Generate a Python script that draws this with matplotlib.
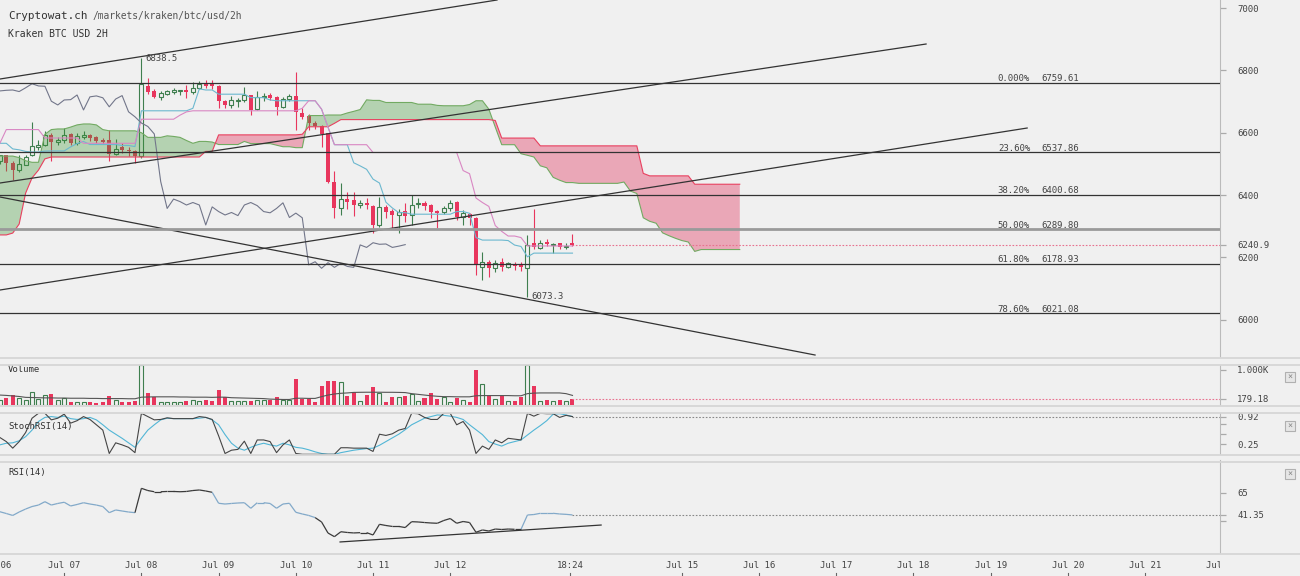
import numpy as np
import matplotlib
matplotlib.use("Agg")
import matplotlib.pyplot as plt
from matplotlib.collections import LineCollection
from matplotlib.lines import Line2D
from matplotlib.patches import Rectangle

plt.rcParams["font.family"] = ["DejaVu Sans Mono"]

# -----------------------
# Data (Kraken BTC/USD, 2h candles from Jul 06 04:00)
# -----------------------
opens = [6509, 6528, 6502, 6480, 6497, 6528, 6555, 6561, 6593, 6570,
         6577, 6596, 6567, 6585, 6593, 6586, 6577, 6577, 6532, 6553,
         6546, 6540, 6526, 6751, 6734, 6714, 6725, 6731, 6735, 6738,
         6732, 6744, 6757, 6757, 6750, 6702, 6690, 6702, 6706, 6721,
         6675, 6713, 6720, 6715, 6683, 6708, 6719, 6663, 6653, 6631,
         6620, 6598, 6443, 6360, 6387, 6384, 6368, 6376, 6366, 6304,
         6362, 6349, 6336, 6349, 6336, 6370, 6376, 6368, 6350, 6347,
         6357, 6379, 6329, 6340, 6325, 6170, 6186, 6165, 6184, 6168,
         6177, 6174, 6165, 6246, 6230, 6250, 6240, 6245, 6232, 6245]
highs = [6530, 6530, 6510, 6528, 6530, 6635, 6577, 6605, 6600, 6585,
         6615, 6600, 6600, 6605, 6596, 6590, 6583, 6609, 6580, 6567,
         6555, 6545, 6838.5, 6775, 6741, 6733, 6737, 6743, 6738, 6753,
         6763, 6766, 6768, 6768, 6753, 6706, 6717, 6711, 6748, 6722,
         6734, 6727, 6727, 6718, 6713, 6724, 6796, 6680, 6660, 6638,
         6625, 6600, 6477, 6440, 6410, 6410, 6384, 6390, 6368, 6395,
         6368, 6355, 6355, 6375, 6400, 6389, 6382, 6370, 6352, 6365,
         6384, 6381, 6352, 6343, 6330, 6218, 6190, 6193, 6197, 6184,
         6184, 6184, 6272, 6354, 6255, 6258, 6246, 6245, 6246, 6275]
lows = [6500, 6477, 6448, 6474, 6495, 6525, 6545, 6558, 6509, 6560,
        6566, 6560, 6562, 6580, 6573, 6567, 6564, 6509, 6528, 6535,
        6525, 6502, 6518, 6724, 6710, 6706, 6722, 6724, 6722, 6710,
        6725, 6740, 6744, 6740, 6679, 6679, 6680, 6683, 6697, 6657,
        6672, 6702, 6705, 6657, 6679, 6702, 6609, 6643, 6609, 6612,
        6555, 6440, 6327, 6336, 6355, 6333, 6360, 6355, 6277, 6298,
        6327, 6293, 6277, 6314, 6304, 6357, 6352, 6327, 6294, 6340,
        6349, 6320, 6304, 6304, 6143, 6127, 6138, 6154, 6157, 6165,
        6160, 6157, 6073.3, 6228, 6227, 6236, 6215, 6228, 6226, 6238]
closes = [6528, 6502, 6480, 6500, 6522, 6557, 6562, 6593, 6570, 6577,
          6593, 6567, 6590, 6593, 6583, 6573, 6570, 6532, 6548, 6545,
          6540, 6526, 6755, 6732, 6716, 6727, 6734, 6736, 6737, 6732,
          6744, 6757, 6750, 6749, 6701, 6689, 6705, 6706, 6721, 6673,
          6715, 6718, 6712, 6683, 6708, 6719, 6667, 6651, 6631, 6620,
          6596, 6443, 6357, 6387, 6379, 6368, 6376, 6368, 6304, 6362,
          6347, 6336, 6344, 6334, 6368, 6376, 6366, 6347, 6343, 6357,
          6375, 6328, 6342, 6327, 6176, 6186, 6165, 6183, 6168, 6181,
          6171, 6168, 6240, 6232, 6247, 6242, 6243, 6232, 6236, 6240.9]
volume = [150, 215, 290, 215, 150, 368, 170, 290, 320, 150,
          215, 85, 105, 105, 105, 75, 105, 263, 150, 105,
          85, 130, 1140, 340, 225, 105, 105, 85, 85, 130,
          150, 130, 150, 130, 433, 225, 130, 113, 130, 130,
          150, 150, 150, 225, 150, 150, 745, 170, 170, 85,
          555, 697, 697, 650, 263, 368, 130, 290, 510, 360,
          105, 245, 245, 263, 320, 130, 200, 340, 180, 245,
          105, 215, 150, 85, 1000, 595, 275, 170, 275, 130,
          130, 225, 1140, 545, 130, 150, 130, 150, 130, 179.18]
volume_ma = [290, 280, 265, 250, 225, 220, 215, 210, 210, 205,
             205, 200, 200, 200, 195, 195, 190, 190, 190, 190,
             185, 185, 230, 235, 240, 240, 240, 240, 235, 235,
             230, 230, 230, 225, 230, 230, 215, 210, 205, 200,
             195, 190, 175, 170, 165, 165, 200, 200, 195, 195,
             245, 290, 320, 340, 350, 365, 368, 370, 370, 370,
             368, 368, 365, 360, 330, 310, 290, 270, 255, 245,
             245, 240, 240, 240, 270, 275, 275, 275, 275, 275,
             270, 270, 330, 345, 350, 350, 350, 350, 330, 280]

# Ichimoku lines
tenkan = [6566, 6566, 6548, 6545, 6540, 6538, 6538, 6541, 6541.5, 6541.5,
          6541.5, 6554.5, 6565, 6572, 6562, 6562, 6562, 6562, 6562, 6559,
          6559, 6555.5, 6670.25, 6670.25, 6670.25, 6670.25, 6670.25, 6670.25, 6670.25, 6670.25,
          6678.25, 6740.5, 6737, 6737, 6723.5, 6723.5, 6723.5, 6723.5, 6723.5, 6712.5,
          6712.5, 6712.5, 6705, 6702.5, 6702.5, 6702.5, 6702.5, 6702.5, 6702.5, 6702.5,
          6675.5, 6618, 6561.5, 6561.5, 6561.5, 6503.5, 6493.5, 6482.5, 6451, 6438.5,
          6377, 6358.5, 6343.5, 6343.5, 6338.5, 6338.5, 6338.5, 6338.5, 6338.5, 6338.5,
          6338.5, 6347, 6347, 6341.5, 6263.5, 6255.5, 6255.5, 6255.5, 6255.5, 6254,
          6239.5, 6235, 6201.65, 6213.65, 6213.65, 6213.65, 6213.65, 6213.65, 6213.65, 6213.65]
kijun = [6566, 6610, 6610, 6610, 6610, 6610, 6610, 6583, 6583, 6583,
         6583, 6583, 6583, 6566, 6566, 6566, 6566, 6566, 6566, 6566,
         6566, 6566, 6643.25, 6643.25, 6643.25, 6643.25, 6643.25, 6643.25, 6656.25, 6666.75,
         6670.25, 6670.25, 6670.25, 6670.25, 6670.25, 6670.25, 6670.25, 6670.25, 6670.25, 6670.25,
         6670.25, 6670.25, 6670.25, 6670.25, 6670.25, 6670.25, 6670.25, 6678.25, 6702.5, 6702.5,
         6675.5, 6618, 6561.5, 6561.5, 6561.5, 6561.5, 6561.5, 6561.5, 6536.5, 6536.5,
         6536.5, 6536.5, 6536.5, 6536.5, 6536.5, 6536.5, 6536.5, 6536.5, 6536.5, 6536.5,
         6536.5, 6536.5, 6478.5, 6468.5, 6390.5, 6376, 6363.5, 6302, 6283.5, 6268.5,
         6268.5, 6263.5, 6236.65, 6236.65, 6236.65, 6236.65, 6236.65, 6236.65, 6236.65, 6236.65]
senkou_a = [6525, 6525, 6525, 6520, 6510, 6505, 6505, 6595, 6610, 6612,
            6612, 6618, 6625, 6628, 6628, 6625, 6610, 6606, 6606, 6606,
            6606, 6606, 6600, 6585, 6585, 6585, 6590, 6588, 6585, 6575,
            6566, 6572, 6572, 6570, 6562, 6562, 6562, 6562, 6572, 6565,
            6565, 6565, 6565, 6560, 6555, 6555, 6552, 6552, 6655, 6655,
            6655, 6656.75, 6656.75, 6656.75, 6663.25, 6668.5, 6674.25, 6705.4, 6703.6, 6703.6,
            6696.9, 6696.9, 6696.9, 6696.9, 6696.9, 6691.4, 6691.4, 6691.4, 6687.6, 6686.4,
            6686.4, 6686.4, 6686.4, 6690.4, 6702.5, 6702.5, 6675.5, 6618, 6561.5, 6561.5,
            6561.5, 6532.5, 6527.5, 6522, 6493.75, 6487.5, 6456.75, 6447.5, 6440, 6440,
            6437.5, 6437.5, 6437.5, 6437.5, 6437.5, 6437.5, 6437.5, 6441.75, 6412.75, 6405,
            6327, 6315.75, 6309.5, 6278.75, 6269.5, 6261.25, 6254, 6249.25, 6219.15, 6225.15,
            6225.15, 6225.15, 6225.15, 6225.15, 6225.15, 6225.15]
senkou_b = [6272, 6272, 6278, 6307, 6406, 6455, 6480, 6516, 6522, 6522,
            6522, 6522, 6522, 6522, 6522, 6522, 6522, 6522, 6522, 6522,
            6522, 6522, 6522, 6522, 6522, 6522, 6522, 6522, 6522, 6522,
            6522, 6522, 6540, 6540, 6593, 6593, 6593, 6593, 6593, 6593,
            6593, 6593, 6593, 6593, 6593, 6593, 6593, 6595, 6619, 6619,
            6619, 6619, 6630, 6642, 6642, 6642, 6642, 6642, 6642, 6642,
            6642, 6642, 6642, 6642, 6642, 6642, 6642, 6642, 6642, 6642,
            6642, 6642, 6642, 6642, 6642, 6642, 6642, 6639.25, 6582.75, 6582.75,
            6582.75, 6582.75, 6582.75, 6582.75, 6557.75, 6557.75, 6557.75, 6557.75, 6557.75, 6557.75,
            6557.75, 6557.75, 6557.75, 6557.75, 6557.75, 6557.75, 6557.75, 6557.75, 6557.75, 6557.75,
            6469.5, 6461.5, 6461.5, 6461.5, 6461.5, 6461.5, 6461.5, 6461.5, 6434.65, 6434.65,
            6434.65, 6434.65, 6434.65, 6434.65, 6434.65, 6434.65]

stoch_k = [0.41, 0.31, 0.15, 0.31, 0.53, 0.88, 1.0, 1.0, 0.84, 0.88,
           0.98, 0.76, 0.82, 0.92, 0.85, 0.72, 0.59, 0.02, 0.28, 0.23,
           0.17, 0.04, 1.0, 0.92, 0.84, 0.85, 0.89, 0.87, 0.87, 0.87,
           0.87, 0.92, 0.9, 0.85, 0.45, 0.02, 0.1, 0.12, 0.32, 0.02,
           0.35, 0.35, 0.31, 0.04, 0.23, 0.35, 0.02, 0.0, 0.0, 0.0,
           0.0, 0.0, 0.0, 0.16, 0.16, 0.15, 0.15, 0.15, 0.07, 0.49,
           0.46, 0.5, 0.59, 0.63, 1.0, 0.99, 0.9, 0.85, 0.85, 1.0,
           1.0, 0.72, 0.8, 0.59, 0.02, 0.2, 0.12, 0.35, 0.28, 0.39,
           0.37, 0.35, 1.0, 0.93, 1.0, 0.99, 0.99, 0.9, 0.95, 0.92]
stoch_d = [0.23, 0.27, 0.28, 0.33, 0.43, 0.59, 0.8, 0.9, 0.92, 0.9,
           0.93, 0.87, 0.85, 0.87, 0.9, 0.84, 0.72, 0.59, 0.49, 0.39,
           0.28, 0.17, 0.39, 0.59, 0.72, 0.84, 0.88, 0.87, 0.87, 0.87,
           0.87, 0.88, 0.9, 0.84, 0.72, 0.48, 0.27, 0.15, 0.1, 0.17,
           0.23, 0.27, 0.23, 0.2, 0.27, 0.23, 0.17, 0.15, 0.11, 0.06,
           0.02, 0.0, 0.0, 0.04, 0.07, 0.1, 0.12, 0.14, 0.15, 0.22,
           0.31, 0.4, 0.49, 0.6, 0.72, 0.8, 0.88, 0.92, 0.96, 0.95,
           0.93, 0.9, 0.85, 0.72, 0.6, 0.48, 0.31, 0.25, 0.2, 0.27,
           0.31, 0.35, 0.47, 0.59, 0.7, 0.82, 0.98, 0.99, 0.96, 0.92]
rsi = [44.8, 42.9, 40.8, 44.5, 47.7, 50.4, 52, 55.6, 52, 53.7,
       55, 51, 52.6, 54.5, 53.1, 52, 50.4, 43.8, 46.7, 45.6,
       44.5, 43.8, 70, 67.6, 66.3, 66.3, 66.6, 66.6, 66.3, 66.6,
       67.6, 68.2, 67.1, 65.7, 53.9, 53.1, 53.7, 54.2, 54.5, 48.5,
       54.5, 54.5, 53.7, 48.5, 53.1, 53.9, 44.2, 42.4, 40.8, 38.5,
       33.8, 21.9, 18, 23.3, 22.5, 22, 22.3, 22.3, 19.8, 31.3,
       30, 29, 29, 27.8, 34.1, 33.8, 33.2, 32.7, 32.4, 35.4,
       37.5, 32.4, 34.3, 33.2, 22.7, 25.2, 24.1, 26.2, 25.7, 26.2,
       25.9, 25.9, 41.3, 41.8, 43.1, 43.1, 43.1, 42.4, 42, 41.35]

fib_labels = ["0.000%", "23.60%", "38.20%", "50.00%", "61.80%", "78.60%"]
fib_prices = [6759.61, 6537.86, 6400.68, 6289.80, 6178.93, 6021.08]

# trend lines: (day, price) pairs, day 0 = Jul 06 00:00
trend_lines = [[(0.168, 6772.2), (6.606, 7025.7)],
               [(0.168, 6438.6), (12.163, 6884.5)],
               [(0.168, 6095.3), (13.472, 6615.0)],
               [(0.168, 6393.7), (10.725, 5886.8)]]
rsi_trend = [(4.573, 12.3), (7.954, 30.5)]

xtick_pos = [0, 1, 2, 3, 4, 5, 6, 7.552, 9, 10, 11, 12, 13, 14, 15, 16]
xtick_lab = ["Jul 06", "Jul 07", "Jul 08", "Jul 09", "Jul 10", "Jul 11", "Jul 12",
             "18:24", "Jul 15", "Jul 16", "Jul 17", "Jul 18", "Jul 19", "Jul 20",
             "Jul 21", "Jul 22"]

# -----------------------
# Style
# -----------------------
BG = "#f0f0f0"
GREEN = "#3f7f4f"
RED = "#e8365d"
TXT = "#444444"
W, H = 1300, 576
XMIN, XMAX = 0.1684, 15.97


def fbox(top, bottom, right=1220):
    return [0, 1 - bottom / H, right / W, (bottom - top) / H]


def px_day(px):
    return (px + 13) / 77.2


def style_axis(ax, ticks, labels, tick_colors=None):
    ax.set_facecolor("none")
    for s in ["top", "left", "bottom"]:
        ax.spines[s].set_visible(False)
    ax.spines["right"].set_color("#bbbbbb")
    ax.spines["right"].set_linewidth(0.8)
    ax.set_xlim(XMIN, XMAX)
    ax.set_xticks([])
    ax.yaxis.tick_right()
    ax.set_yticks(ticks)
    ax.set_yticklabels(labels)
    ax.tick_params(axis="y", direction="out", length=4.3, width=0.9,
                   color="#aaaaaa", pad=8, labelsize=6.5, labelcolor=TXT)
    if tick_colors:
        for tk, col in zip(ax.yaxis.get_major_ticks(), tick_colors):
            if col:
                tk.tick2line.set_color(col)


fig = plt.figure(figsize=(13, 5.76), dpi=100, facecolor=BG)

o = np.array(opens)
c = np.array(closes)
h = np.array(highs)
l = np.array(lows)
n = len(c)
t = (np.arange(n) + 2) / 12.0
t_cloud = (np.arange(len(senkou_a)) + 2) / 12.0
up = c >= o
bw = 0.052

# -----------------------
# Main price panel
# -----------------------
ax = fig.add_axes(fbox(0, 357))
ax.set_ylim(5880.4, 7025.7)

ax.vlines(t[up], l[up], h[up], color=GREEN, lw=0.8, zorder=2)
ax.vlines(t[~up], l[~up], h[~up], color=RED, lw=0.8, zorder=2)
body_lo = np.minimum(o, c)
body_h = np.maximum(np.abs(c - o), 3)
ax.bar(t[up], body_h[up], bottom=body_lo[up], width=bw, facecolor=BG,
       edgecolor=GREEN, linewidth=0.8, zorder=2.5)
ax.bar(t[~up], body_h[~up], bottom=body_lo[~up], width=bw, color=RED,
       linewidth=0, zorder=2.5)

a = np.array(senkou_a)
b = np.array(senkou_b)
ax.fill_between(t_cloud, a, b, where=a >= b, interpolate=True,
                color="#3b9632", alpha=0.33, lw=0, zorder=3)
ax.fill_between(t_cloud, a, b, where=a < b, interpolate=True,
                color="#e33a62", alpha=0.4, lw=0, zorder=3)
ax.plot(t_cloud, a, color="#72aa62", lw=0.8, zorder=3.5)
ax.plot(t_cloud, b, color="#e8405f", lw=0.8, zorder=3.5)

ax.plot(t, tenkan, color="#6cb8cf", lw=0.8, zorder=4)
ax.plot(t, kijun, color="#d987c3", lw=0.8, zorder=4)
ax.plot(t[:n - 26], c[26:], color="#72768a", lw=0.8, zorder=4)

for (x0, y0), (x1, y1) in trend_lines:
    ax.plot([x0, x1], [y0, y1], color="#333333", lw=0.9, zorder=5)

for lab, p in zip(fib_labels, fib_prices):
    if lab == "50.00%":
        ax.axhline(p, color="#9a9a9a", lw=2.0, zorder=5)
    else:
        ax.axhline(p, color="#333333", lw=0.9, zorder=5)
    ax.text(px_day(1030), p + 13, lab, ha="right", va="center",
            fontsize=6.5, color=TXT, zorder=6)
    ax.text(px_day(1041), p + 13, f"{p:.2f}", ha="left", va="center",
            fontsize=6.5, color=TXT, zorder=6)

ax.plot([t[-1], XMAX], [c[-1], c[-1]], color="#e8718f", lw=0.8,
        ls=(0, (1.5, 1.5)), zorder=5)

i_hi = int(np.argmax(h))
i_lo = int(np.argmin(l))
ax.text(t[i_hi] + 0.05, h[i_hi], f"{h[i_hi]:.1f}", fontsize=6.5,
        color=TXT, va="center", ha="left", zorder=6)
ax.text(t[i_lo] + 0.05, l[i_lo], f"{l[i_lo]:.1f}", fontsize=6.5,
        color=TXT, va="center", ha="left", zorder=6)

main_ticks = [6000, 6200, 6240.9, 6400, 6600, 6800, 7000]
style_axis(ax, main_ticks, ["6000", "6200", "6240.9", "6400", "6600", "6800", "7000"],
           [None, None, "#e8718f", None, None, None, None])

# -----------------------
# Volume
# -----------------------
axv = fig.add_axes(fbox(365, 405.3))
axv.set_ylim(0, 1140.7)
v = np.array(volume)
axv.bar(t[up], v[up], width=bw, facecolor=BG, edgecolor=GREEN, linewidth=0.8)
axv.bar(t[~up], v[~up], width=bw, color=RED, linewidth=0)
axv.plot(t, volume_ma, color="#555555", lw=0.8)
axv.plot([t[-1], XMAX], [v[-1], v[-1]], color="#e8718f", lw=0.8,
         ls=(0, (1.5, 1.5)))
axv.text(px_day(8), 1000, "Volume", fontsize=6.5, color="#333333", va="center")
style_axis(axv, [179.18, 1000], ["179.18", "1.000K"], ["#e8718f", None])

# -----------------------
# StochRSI
# -----------------------
axs = fig.add_axes(fbox(413.3, 454.3))
axs.set_ylim(0, 1)
axs.plot(t, stoch_d, color="#52b6d6", lw=0.8, clip_on=False)
axs.plot(t, stoch_k, color="#454545", lw=0.8, clip_on=False)
axs.plot([t[-1], XMAX], [stoch_d[-1], stoch_d[-1]], color="#888888", lw=0.8,
         ls=(0, (1.5, 1.5)))
axs.text(px_day(8), 0.68, "StochRSI(14)", fontsize=6.5, color="#333333", va="center")
style_axis(axs, [0.25, 0.5, 0.75, 0.92], ["0.25", "", "", "0.92"],
           [None, None, None, "#52b6d6"])

# -----------------------
# RSI
# -----------------------
axr = fig.add_axes(fbox(460.4, 553.4))
axr.set_ylim(0, 100)
r = np.array(rsi)
pts = np.column_stack([t, r])
segs = np.stack([pts[:-1], pts[1:]], axis=1)
seg_cols = ["#3a3a3a" if (val > 60 or val < 38) else "#82a9c9" for val in r[1:]]
axr.add_collection(LineCollection(segs, colors=seg_cols, linewidths=0.9))
axr.plot([rsi_trend[0][0], rsi_trend[1][0]], [rsi_trend[0][1], rsi_trend[1][1]],
         color="#333333", lw=0.9)
axr.plot([t[-1], XMAX], [r[-1], r[-1]], color="#888888", lw=0.8,
         ls=(0, (1.5, 1.5)))
axr.text(px_day(8), 87, "RSI(14)", fontsize=6.5, color="#333333", va="center")
style_axis(axr, [35, 41.35, 65], ["", "41.35", "65"], [None, "#333333", None])

# -----------------------
# Time axis
# -----------------------
axx = fig.add_axes(fbox(553.4, 576))
axx.set_xlim(XMIN, XMAX)
axx.set_ylim(0, 22.6)
axx.axis("off")
for xp, lab in zip(xtick_pos, xtick_lab):
    if xp < XMIN:
        # first day label is partly hidden behind the left edge
        axx.text(px_day(11), 11, lab, ha="right", va="center", fontsize=6.5,
                 color=TXT, clip_on=True)
        continue
    axx.text(xp, 11, lab, ha="center", va="center", fontsize=6.5,
             color=TXT, clip_on=True)
    axx.plot([xp, xp], [0, 3.5], color="#666666", lw=0.8)

# panel separators
for ypx in [357.5, 365, 405.5, 413, 454.5, 462, 553.5]:
    fig.add_artist(Line2D([0, 1], [1 - ypx / H] * 2, color="#d6d6d6",
                          lw=1.3, transform=fig.transFigure))

# close boxes
for ypx in [377, 426, 474]:
    fig.add_artist(Rectangle(((1285) / W, 1 - (ypx + 5) / H), 10 / W, 10 / H,
                             facecolor="#e6e6e6", edgecolor="#b0b0b0", lw=0.8,
                             transform=fig.transFigure))
    fig.text(1290 / W, 1 - ypx / H, "\u00d7", ha="center", va="center",
             fontsize=6, color="#888888")

# header
fig.text(8 / W, 1 - 16 / H, "Cryptowat.ch", fontsize=7.9, color="#333333", va="center")
fig.text(93 / W, 1 - 16 / H, "/markets/kraken/btc/usd/2h", fontsize=6.9,
         color="#555555", va="center")
fig.text(8 / W, 1 - 34 / H, "Kraken BTC USD 2H", fontsize=7, color="#333333",
         va="center")

fig.savefig("out.png", dpi=100, facecolor=BG)
